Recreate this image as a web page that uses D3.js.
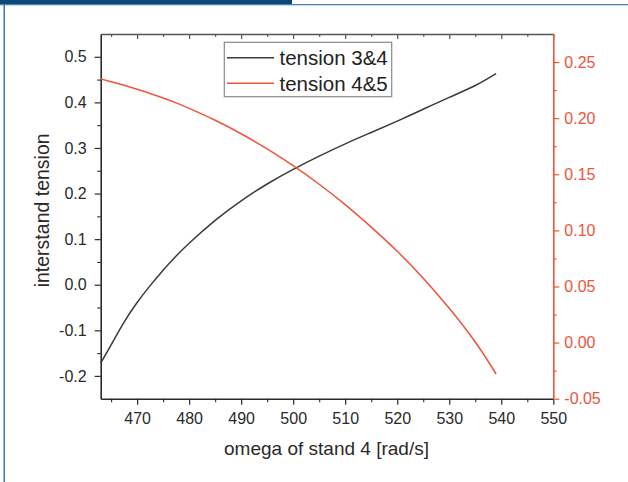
<!DOCTYPE html>
<html>
<head>
<meta charset="utf-8">
<script src="https://cdn.jsdelivr.net/npm/d3@7"></script>
<style>
  html, body { margin: 0; padding: 0; background: #fff; }
  svg { display: block; }
  text { font-family: "Liberation Sans", Arial, Helvetica, sans-serif; }
</style>
</head>
<body>
<svg id="chart" width="628" height="482"></svg>
<script>
// omega of stand 4 [rad/s]
const omega = [463, 465, 467.5, 470, 472.5, 475, 477.5, 480, 485, 490, 495, 500, 505, 510, 515, 520, 525, 530, 535, 539];
// interstand tension between stands 3 and 4 (left axis)
const tension34 = [-0.172, -0.132, -0.082, -0.039, -0.002, 0.032, 0.063, 0.091, 0.141, 0.184, 0.221, 0.253, 0.282, 0.309, 0.334, 0.359, 0.385, 0.411, 0.437, 0.463];
// interstand tension between stands 4 and 5 (right axis)
const tension45 = [0.235, 0.2325, 0.2293, 0.2258, 0.2220, 0.2180, 0.2136, 0.2087, 0.1981, 0.1861, 0.1726, 0.1576, 0.1411, 0.1229, 0.1029, 0.0814, 0.0574, 0.0306, 0.0005, -0.028];

const xTicks = [470, 480, 490, 500, 510, 520, 530, 540, 550];
const xMinor = [465, 475, 485, 495, 505, 515, 525, 535, 545];
const yLeftTicks = [-0.2, -0.1, 0.0, 0.1, 0.2, 0.3, 0.4, 0.5];
const yLeftMinor = [-0.15, -0.05, 0.05, 0.15, 0.25, 0.35, 0.45];
const yRightTicks = [-0.05, 0.00, 0.05, 0.10, 0.15, 0.20, 0.25];
const yRightMinor = [-0.025, 0.025, 0.075, 0.125, 0.175, 0.225];
const seriesNames = ["tension 3&4", "tension 4&5"];

const RED = "#f0533b";
const DARK = "#2b2b2b";

const svg = d3.select("#chart");

// page frame
svg.append("rect").attr("x", 0).attr("y", 0).attr("width", 292).attr("height", 4).attr("fill", "#0d4878");
svg.append("rect").attr("x", 0).attr("y", 4).attr("width", 628).attr("height", 1.3).attr("fill", "#4f82b4");
svg.append("rect").attr("x", 3.5).attr("y", 5).attr("width", 1.4).attr("height", 477).attr("fill", "#2f6ca3");

const L = 100.7, R = 553.3, T = 34, B = 398.7;

const x = d3.scaleLinear().domain([463, 550]).range([L, R]);
const yL = d3.scaleLinear().domain([-0.25, 0.55]).range([B, T]);
const yR = d3.scaleLinear().domain([-0.05, 0.275]).range([B, T]);

// plain hyphen-minus for negative tick labels
const fmt = spec => { const f = d3.format(spec); return d => f(d).replace("\u2212", "-"); };

function styleAxis(g, color, fontSize) {
  g.select(".domain").attr("stroke", color).attr("stroke-width", 1.6);
  g.selectAll(".tick line").attr("stroke", color).attr("stroke-width", 1.2);
  g.selectAll(".tick text").attr("fill", color).attr("font-size", fontSize)
    .attr("font-family", "'Liberation Sans', Arial, sans-serif");
}

// minor ticks
function minor(axisGen, translate, color) {
  const g = svg.append("g").attr("transform", translate).call(axisGen);
  g.select(".domain").remove();
  g.selectAll(".tick text").remove();
  g.selectAll(".tick line").attr("stroke", color).attr("stroke-width", 1.1);
  return g;
}

// bottom axis
const gx = svg.append("g").attr("transform", `translate(0,${B})`)
  .call(d3.axisBottom(x).tickValues(xTicks).tickSize(6).tickPadding(8).tickSizeOuter(0));
styleAxis(gx, DARK, "16px");
gx.selectAll(".tick text").attr("fill", "#2a2a2a");
minor(d3.axisBottom(x).tickValues(xMinor).tickSize(3.5), `translate(0,${B})`, DARK);

// top axis (ticks inward, no labels)
const gt = svg.append("g").attr("transform", `translate(0,${T})`)
  .call(d3.axisTop(x).tickValues(xTicks).tickSize(-5).tickFormat("").tickSizeOuter(0));
styleAxis(gt, "#555", "0px");
minor(d3.axisTop(x).tickValues(xMinor).tickSize(-3), `translate(0,${T})`, "#555");

// left axis
const gl = svg.append("g").attr("transform", `translate(${L},0)`)
  .call(d3.axisLeft(yL).tickValues(yLeftTicks).tickSize(6).tickPadding(8)
    .tickFormat(fmt(".1f")).tickSizeOuter(0));
styleAxis(gl, DARK, "16px");
gl.selectAll(".tick text").attr("fill", "#2a2a2a");
minor(d3.axisLeft(yL).tickValues(yLeftMinor).tickSize(3.5), `translate(${L},0)`, DARK);

// right axis
const gr = svg.append("g").attr("transform", `translate(${R},0)`)
  .call(d3.axisRight(yR).tickValues(yRightTicks).tickSize(6).tickPadding(5)
    .tickFormat(fmt(".2f")).tickSizeOuter(0));
styleAxis(gr, RED, "16px");
minor(d3.axisRight(yR).tickValues(yRightMinor).tickSize(3.5), `translate(${R},0)`, RED);

// axis titles
svg.append("text").attr("x", (L + R) / 2 - 0.5).attr("y", 455)
  .attr("text-anchor", "middle").attr("font-size", "19px").attr("fill", "#2a2a2a")
  .text("omega of stand 4 [rad/s]");
svg.append("text").attr("transform", `translate(49,${(T + B) / 2 - 6}) rotate(-90)`)
  .attr("text-anchor", "middle").attr("font-size", "19.5px").attr("fill", "#2a2a2a")
  .text("interstand tension");

// curves
const line34 = d3.line().x((d, i) => x(omega[i])).y(d => yL(d)).curve(d3.curveNatural);
const line45 = d3.line().x((d, i) => x(omega[i])).y(d => yR(d)).curve(d3.curveNatural);

svg.append("path").datum(tension34).attr("d", line34)
  .attr("fill", "none").attr("stroke", "#3a3a3a").attr("stroke-width", 1.5);
svg.append("path").datum(tension45).attr("d", line45)
  .attr("fill", "none").attr("stroke", RED).attr("stroke-width", 1.5);

// legend
const lg = svg.append("g");
lg.append("rect").attr("x", 224.3).attr("y", 42.3).attr("width", 167.4).attr("height", 54.4)
  .attr("fill", "#fff").attr("stroke", "#8a8a8a").attr("stroke-width", 1.2);
const legColors = ["#3a3a3a", RED];
const legY = [57.7, 83.3];
seriesNames.forEach((name, i) => {
  lg.append("line").attr("x1", 227).attr("x2", 274).attr("y1", legY[i]).attr("y2", legY[i])
    .attr("stroke", legColors[i]).attr("stroke-width", 1.5);
  lg.append("text").attr("x", 279.5).attr("y", legY[i] + 7.2)
    .attr("font-size", "20.5px").attr("fill", "#222").text(name);
});
</script>
</body>
</html>
